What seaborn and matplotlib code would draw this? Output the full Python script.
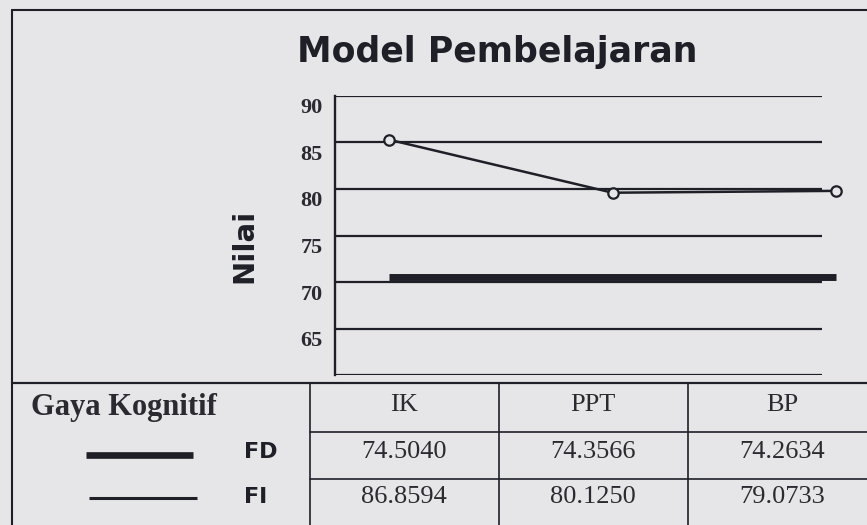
import matplotlib
matplotlib.use("Agg")
import matplotlib.pyplot as plt
import matplotlib.transforms as mtransforms
from matplotlib.lines import Line2D
import seaborn as sns
import pandas as pd

# ---- data ----
categories = ["IK", "PPT", "BP"]
fd_plotted = [70.5, 70.5, 70.5]      # FD line as drawn
fi_plotted = [85.3, 79.6, 79.8]      # FI line as drawn
fd_table = ["74.5040", "74.3566", "74.2634"]
fi_table = ["86.8594", "80.1250", "79.0733"]
ytick_values = [60, 65, 70, 75, 80, 85, 90]
ytick_labels = ["", "65", "70", "75", "80", "85", "90"]

BG = "#e6e6e8"
INK = "#1f1f28"
W, H = 867, 525

sns.set_theme(style="white")
plt.rcParams["font.family"] = ["DejaVu Sans"]

fig = plt.figure(figsize=(W / 100, H / 100), dpi=100, facecolor=BG)

def fx(px):
    return px / W

def fy(py):
    return 1 - py / H

# axes placement
ax_l, ax_r, ax_t, ax_b = 335, 822, 96, 375
ax = fig.add_axes([fx(ax_l), fy(ax_b), fx(ax_r - ax_l), (ax_b - ax_t) / H])
ax.set_facecolor(BG)

df = pd.DataFrame({"Model": categories, "FD": fd_plotted, "FI": fi_plotted})

sns.lineplot(data=df, x="Model", y="FD", ax=ax, color=INK, lw=5.0,
             sort=False, solid_capstyle="butt", clip_on=False, zorder=3)
sns.lineplot(data=df, x="Model", y="FI", ax=ax, color=INK, lw=1.8,
             sort=False, marker="o", markersize=7.5, markerfacecolor=BG,
             markeredgecolor=INK, markeredgewidth=1.6, clip_on=False, zorder=4)

# scale: x position 0 at px 389, 223 px per category
ax.set_xlim(-(389 - ax_l) / 223, 2 - (836 - ax_r) / 223)
ax.set_ylim(60, 90)
ax.set_yticks(ytick_values)
ax.set_yticklabels(ytick_labels)
ax.set_xticks([])
ax.set_xlabel("")
ax.set_ylabel("")
ax.grid(axis="y", color=INK, lw=1.6)
ax.grid(axis="x", visible=False)
for s in ["top", "right", "bottom"]:
    ax.spines[s].set_visible(False)
ax.spines["left"].set_color(INK)
ax.spines["left"].set_linewidth(1.7)
ax.tick_params(axis="y", length=0, pad=9)
offset = mtransforms.ScaledTranslation(0, -10 / 100, fig.dpi_scale_trans)
for lbl in ax.get_yticklabels():
    lbl.set_fontfamily("Liberation Serif")
    lbl.set_fontweight("bold")
    lbl.set_fontsize(16)
    lbl.set_color("#2a2a30")
    lbl.set_transform(lbl.get_transform() + offset)

# title and y label
fig.text(fx(497), fy(52), "Model Pembelajaran", ha="center", va="center",
         fontsize=25, fontweight="heavy", color=INK)
fig.text(fx(244), fy(246), "Nilai", ha="center", va="center", rotation=90,
         fontsize=21, fontweight="heavy", color=INK)

# frame and table rules
def hline(y, x0, x1, lw=1.5):
    fig.add_artist(Line2D([fx(x0), fx(x1)], [fy(y), fy(y)], color=INK, lw=lw))

def vline(x, y0, y1, lw=1.5):
    fig.add_artist(Line2D([fx(x), fx(x)], [fy(y0), fy(y1)], color=INK, lw=lw))

hline(10, 12, W)
vline(12, 10, H)
hline(383, 12, W, lw=1.6)
for x in [310, 499, 688]:
    vline(x, 383, H, lw=1.2)
hline(432, 310, W, lw=1.2)
hline(479, 310, W, lw=1.2)

# table text
fig.text(fx(31), fy(408), "Gaya Kognitif", ha="left", va="center",
         fontfamily="Liberation Serif", fontweight="bold", fontsize=22,
         color="#2a2a30")
col_centers = [404, 593, 782]
for cx, cat, fdv, fiv in zip(col_centers, categories, fd_table, fi_table):
    fig.text(fx(cx), fy(405), cat, ha="center", va="center",
             fontfamily="Liberation Serif", fontsize=19, color="#2a2a30")
    fig.text(fx(cx), fy(452), fdv, ha="center", va="center",
             fontfamily="Liberation Serif", fontsize=19, color="#2a2a30")
    fig.text(fx(cx), fy(497), fiv, ha="center", va="center",
             fontfamily="Liberation Serif", fontsize=19, color="#2a2a30")

# legend samples
fig.add_artist(Line2D([fx(86), fx(193)], [fy(455), fy(455)], color=INK, lw=4.8,
                      solid_capstyle="butt"))
fig.add_artist(Line2D([fx(89), fx(197)], [fy(498), fy(498)], color=INK, lw=2.2,
                      solid_capstyle="butt"))
fig.text(fx(244), fy(452), "FD", ha="left", va="center", fontsize=16,
         fontweight="heavy", color=INK)
fig.text(fx(244), fy(497), "FI", ha="left", va="center", fontsize=16,
         fontweight="heavy", color=INK)

fig.savefig("out.png", dpi=100, facecolor=BG)
